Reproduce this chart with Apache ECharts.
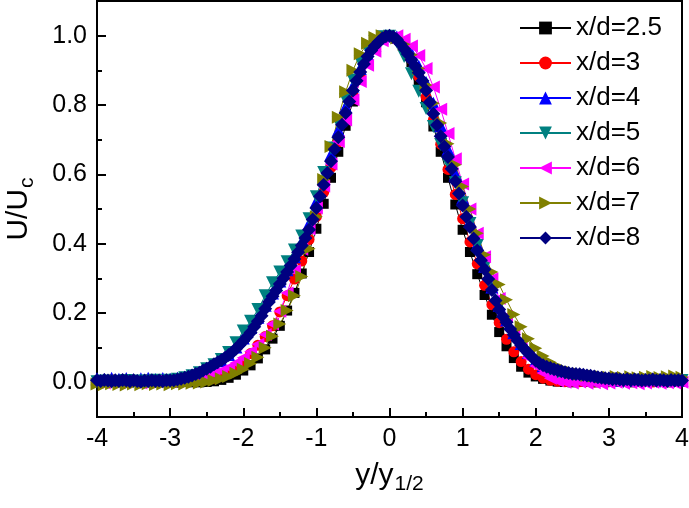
<!DOCTYPE html>
<html><head><meta charset="utf-8">
<script src="https://cdn.jsdelivr.net/npm/echarts@6/dist/echarts.min.js"></script>
<style>html,body{margin:0;padding:0;background:#fff}#c{width:689px;height:508px}</style>
</head><body><div id="c"></div><script>
// ---- data ----
const xGrid = [
-4.0,-3.9,-3.8,-3.7,-3.6,-3.5,-3.4,-3.3,-3.2,-3.1,
-3.0,-2.9,-2.8,-2.7,-2.6,-2.5,-2.4,-2.3,-2.2,-2.1,
-2.0,-1.9,-1.8,-1.7,-1.6,-1.5,-1.4,-1.3,-1.2,-1.1,
-1.0,-0.9,-0.8,-0.7,-0.6,-0.5,-0.4,-0.3,-0.2,-0.1,
0.0,
0.1,0.2,0.3,0.4,0.5,0.6,0.7,0.8,0.9,1.0,
1.1,1.2,1.3,1.4,1.5,1.6,1.7,1.8,1.9,2.0,
2.1,2.2,2.3,2.4,2.5,2.6,2.7,2.8,2.9,3.0,
3.1,3.2,3.3,3.4,3.5,3.6,3.7,3.8,3.9,4.0];
const xGridFine = [
-4.00,-3.95,-3.90,-3.85,-3.80,-3.75,-3.70,-3.65,-3.60,-3.55,
-3.50,-3.45,-3.40,-3.35,-3.30,-3.25,-3.20,-3.15,-3.10,-3.05,
-3.00,-2.95,-2.90,-2.85,-2.80,-2.75,-2.70,-2.65,-2.60,-2.55,
-2.50,-2.45,-2.40,-2.35,-2.30,-2.25,-2.20,-2.15,-2.10,-2.05,
-2.00,-1.95,-1.90,-1.85,-1.80,-1.75,-1.70,-1.65,-1.60,-1.55,
-1.50,-1.45,-1.40,-1.35,-1.30,-1.25,-1.20,-1.15,-1.10,-1.05,
-1.00,-0.95,-0.90,-0.85,-0.80,-0.75,-0.70,-0.65,-0.60,-0.55,
-0.50,-0.45,-0.40,-0.35,-0.30,-0.25,-0.20,-0.15,-0.10,-0.05,
0.00,
0.05,0.10,0.15,0.20,0.25,0.30,0.35,0.40,0.45,0.50,
0.55,0.60,0.65,0.70,0.75,0.80,0.85,0.90,0.95,1.00,
1.05,1.10,1.15,1.20,1.25,1.30,1.35,1.40,1.45,1.50,
1.55,1.60,1.65,1.70,1.75,1.80,1.85,1.90,1.95,2.00,
2.05,2.10,2.15,2.20,2.25,2.30,2.35,2.40,2.45,2.50,
2.55,2.60,2.65,2.70,2.75,2.80,2.85,2.90,2.95,3.00,
3.05,3.10,3.15,3.20,3.25,3.30,3.35,3.40,3.45,3.50,
3.55,3.60,3.65,3.70,3.75,3.80,3.85,3.90,3.95,4.00];

const seriesNames = ['x/d=2.5','x/d=3','x/d=4','x/d=5','x/d=6','x/d=7','x/d=8'];

const u_xd25 = [
0.002,0.004,0.001,0.003,0.002,0.004,0.001,0.002,0.000,0.002,
0.001,-0.001,0.001,0.000,0.000,0.001,0.003,0.007,0.013,0.022,
0.034,0.049,0.069,0.095,0.126,0.163,0.207,0.258,0.314,0.376,
0.443,0.515,0.590,0.665,0.740,0.810,0.872,0.925,0.966,0.992,
1.000,
0.991,0.966,0.924,0.870,0.808,0.738,0.665,0.590,0.513,0.440,
0.376,0.312,0.252,0.195,0.145,0.104,0.070,0.045,0.028,0.017,
0.010,0.005,0.002,0.001,0.000,0.002,0.001,0.000,0.002,0.001,
0.003,0.001,0.000,0.002,0.001,0.003,0.002,0.000,0.002,0.001];
const u_xd3 = [
0.006,0.004,0.008,0.005,0.003,0.007,0.005,0.009,0.004,0.006,
0.003,0.005,0.004,0.005,0.006,0.008,0.012,0.019,0.029,0.043,
0.061,0.083,0.107,0.132,0.163,0.203,0.250,0.298,0.350,0.412,
0.478,0.548,0.620,0.694,0.764,0.830,0.888,0.936,0.972,0.993,
1.000,
0.993,0.970,0.932,0.882,0.823,0.757,0.687,0.614,0.542,0.472,
0.405,0.342,0.280,0.224,0.172,0.124,0.088,0.060,0.038,0.022,
0.012,0.006,0.003,0.002,0.004,0.002,0.003,0.001,0.004,0.002,
0.003,0.005,0.002,0.004,0.003,0.001,0.004,0.002,0.005,0.003];
const u_xd4 = [
0.010,0.008,0.012,0.009,0.011,0.007,0.010,0.012,0.008,0.011,
0.009,0.012,0.015,0.020,0.026,0.036,0.048,0.062,0.080,0.102,
0.128,0.158,0.188,0.222,0.258,0.292,0.325,0.362,0.405,0.458,
0.522,0.590,0.658,0.728,0.795,0.855,0.905,0.945,0.972,0.993,
1.000,
0.996,0.978,0.950,0.912,0.865,0.805,0.740,0.672,0.602,0.532,
0.465,0.398,0.335,0.275,0.222,0.180,0.143,0.112,0.086,0.064,
0.048,0.036,0.027,0.020,0.015,0.012,0.010,0.009,0.007,0.008,
0.006,0.009,0.005,0.008,0.006,0.009,0.007,0.005,0.008,0.006];
const u_xd5 = [
0.002,0.004,0.001,0.003,0.005,0.002,0.004,0.003,0.006,0.004,
0.006,0.009,0.013,0.019,0.028,0.039,0.051,0.066,0.086,0.114,
0.148,0.176,0.210,0.250,0.287,0.318,0.348,0.382,0.422,0.472,
0.535,0.605,0.676,0.748,0.815,0.872,0.925,0.960,0.983,0.997,
0.998,
0.982,0.940,0.890,0.840,0.790,0.738,0.686,0.632,0.576,0.518,
0.458,0.395,0.332,0.272,0.220,0.176,0.138,0.106,0.080,0.058,
0.042,0.030,0.021,0.015,0.011,0.008,0.006,0.004,0.006,0.003,
0.005,0.002,0.004,0.006,0.003,0.005,0.002,0.004,0.003,0.005];
const u_xd6 = [
0.000,-0.002,0.001,-0.001,0.002,0.000,-0.002,0.001,0.003,0.001,
0.002,0.004,0.006,0.009,0.013,0.018,0.025,0.033,0.043,0.056,
0.071,0.089,0.110,0.138,0.168,0.205,0.258,0.322,0.384,0.442,
0.503,0.566,0.630,0.695,0.757,0.815,0.868,0.915,0.955,0.985,
0.992,
1.000,0.990,0.970,0.943,0.905,0.852,0.788,0.718,0.645,0.572,
0.500,0.430,0.362,0.299,0.242,0.190,0.143,0.104,0.071,0.047,
0.027,0.012,0.004,0.000,-0.002,0.001,-0.003,-0.001,-0.004,-0.002,
0.000,-0.003,-0.001,-0.004,-0.002,0.000,-0.003,-0.001,-0.002,0.000];
const u_xd7 = [
-0.005,-0.007,-0.004,-0.006,-0.008,-0.005,-0.007,-0.004,-0.006,-0.005,
-0.007,-0.004,-0.005,-0.003,-0.002,0.001,0.005,0.010,0.017,0.026,
0.038,0.054,0.072,0.100,0.133,0.168,0.207,0.250,0.305,0.385,
0.478,0.585,0.680,0.765,0.838,0.900,0.948,0.978,0.995,1.000,
0.997,
0.993,0.975,0.945,0.905,0.858,0.805,0.748,0.688,0.628,0.565,
0.500,0.430,0.368,0.318,0.282,0.238,0.196,0.160,0.126,0.098,
0.076,0.058,0.046,0.036,0.029,0.024,0.020,0.018,0.016,0.015,
0.017,0.014,0.016,0.013,0.015,0.017,0.014,0.016,0.018,0.015];
const u_xd8 = [
0.006,0.004,0.007,0.005,0.003,0.006,0.004,0.007,0.005,0.003,
0.006,0.004,0.002,0.005,0.003,0.006,0.004,0.005,0.003,0.006,
0.005,0.006,0.008,0.010,0.013,0.016,0.020,0.024,0.028,0.034,
0.039,0.045,0.052,0.058,0.064,0.071,0.079,0.087,0.097,0.108,
0.119,0.131,0.144,0.160,0.176,0.192,0.212,0.232,0.248,0.265,
0.284,0.300,0.318,0.337,0.356,0.375,0.395,0.416,0.440,0.470,
0.503,0.537,0.570,0.604,0.638,0.672,0.707,0.743,0.777,0.810,
0.842,0.870,0.895,0.918,0.940,0.957,0.971,0.982,0.992,0.998,
1.000,
0.997,0.989,0.976,0.962,0.947,0.930,0.912,0.893,0.870,0.842,
0.808,0.775,0.742,0.710,0.680,0.650,0.616,0.580,0.545,0.510,
0.478,0.448,0.415,0.380,0.352,0.326,0.298,0.266,0.236,0.210,
0.190,0.173,0.154,0.137,0.121,0.107,0.095,0.084,0.073,0.062,
0.055,0.049,0.045,0.041,0.038,0.035,0.032,0.029,0.027,0.025,
0.024,0.023,0.022,0.020,0.019,0.017,0.015,0.013,0.012,0.011,
0.009,0.010,0.008,0.007,0.009,0.006,0.008,0.007,0.005,0.007,
0.006,0.008,0.005,0.007,0.006,0.004,0.007,0.005,0.006,0.005];

const xTickValues = [-4,-3,-2,-1,0,1,2,3,4];
const yTickValues = [0.0,0.2,0.4,0.6,0.8,1.0];
const yMinorTickValues = [0.1,0.3,0.5,0.7,0.9];

// ---- styling ----
const FONT = "'Liberation Sans', Arial, sans-serif";
const seriesX = [xGrid, xGrid, xGrid, xGrid, xGrid, xGrid, xGridFine];
const seriesU = [u_xd25, u_xd3, u_xd4, u_xd5, u_xd6, u_xd7, u_xd8];
const colors = ['#000000','#ff0000','#0000ff','#008080','#ff00ff','#808000','#000080'];
const symbols = ['rect','circle','triangle','triangle','triangle','triangle','diamond'];
const rotates = [0,0,0,180,90,-90,0];
const sizes = [10,11,13,13,13,13,14];

const series = seriesNames.map((name, i) => ({
  name, type: 'line',
  data: seriesX[i].map((x, k) => [x, seriesU[i][k]]),
  symbol: symbols[i], symbolSize: sizes[i], symbolRotate: rotates[i],
  showSymbol: true, showAllSymbol: true,
  itemStyle: { color: colors[i] },
  lineStyle: { color: colors[i], width: 1 },
  emphasis: { disabled: true },
  silent: true
}));

const chart = echarts.init(document.getElementById('c'), null, { renderer: 'canvas' });
chart.setOption({
  animation: false,
  backgroundColor: '#fff',
  grid: { left: 97, right: 7, top: 1, bottom: 91, outerBoundsMode: 'none', containLabel: false,
    show: true, borderColor: '#000', borderWidth: 2, backgroundColor: 'transparent' },
  legend: {
    data: seriesNames, orient: 'vertical', left: 519, top: 15, padding: 0,
    itemWidth: 51, itemHeight: 16, itemGap: 9,
    textStyle: { fontSize: 26, lineHeight: 26, fontFamily: FONT, color: '#000' },
    selectedMode: false
  },
  xAxis: {
    type: 'value', min: -4, max: 4, interval: 1,
    axisLine: { show: true, onZero: false, lineStyle: { color: '#000', width: 2 } },
    axisTick: { show: true, inside: true, length: 9, lineStyle: { color: '#000', width: 2 } },
    minorTick: { show: true, splitNumber: 2, length: 5, lineStyle: { color: '#000', width: 2 } },
    axisLabel: { fontSize: 25, fontFamily: FONT, color: '#000', margin: 10, customValues: xTickValues },
    splitLine: { show: false },
    name: '{m|y/y}{s|1/2}', nameLocation: 'middle', nameGap: 37,
    nameTextStyle: { rich: {
      m: { fontSize: 30, fontFamily: FONT, color: '#000', lineHeight: 32 },
      s: { fontSize: 21, fontFamily: FONT, color: '#000', lineHeight: 21, padding: [17, 0, 0, 1] }
    } }
  },
  yAxis: [{
    type: 'value', min: -0.1, max: 1.1, interval: 0.1,
    axisLine: { show: true, onZero: false, lineStyle: { color: '#000', width: 2 } },
    axisTick: { show: true, inside: true, length: 9, lineStyle: { color: '#000', width: 2 }, customValues: yTickValues },
    axisLabel: { fontSize: 25, fontFamily: FONT, color: '#000', margin: 10, customValues: yTickValues,
      formatter: v => v.toFixed(1) },
    splitLine: { show: false },
    name: '{m|U/U}{s|c}', nameLocation: 'middle', nameRotate: 90, nameGap: 62,
    nameTextStyle: { rich: {
      m: { fontSize: 30, fontFamily: FONT, color: '#000', lineHeight: 32 },
      s: { fontSize: 21, fontFamily: FONT, color: '#000', lineHeight: 21, padding: [17, 0, 0, 1] }
    } }
  }, {
    type: 'value', min: -0.1, max: 1.1, interval: 0.1, position: 'left', offset: 0,
    axisLine: { show: false, onZero: false },
    axisTick: { show: true, inside: true, length: 5, lineStyle: { color: '#000', width: 2 }, customValues: yMinorTickValues },
    axisLabel: { show: false },
    splitLine: { show: false }
  }],
  series
});
</script></body></html>
